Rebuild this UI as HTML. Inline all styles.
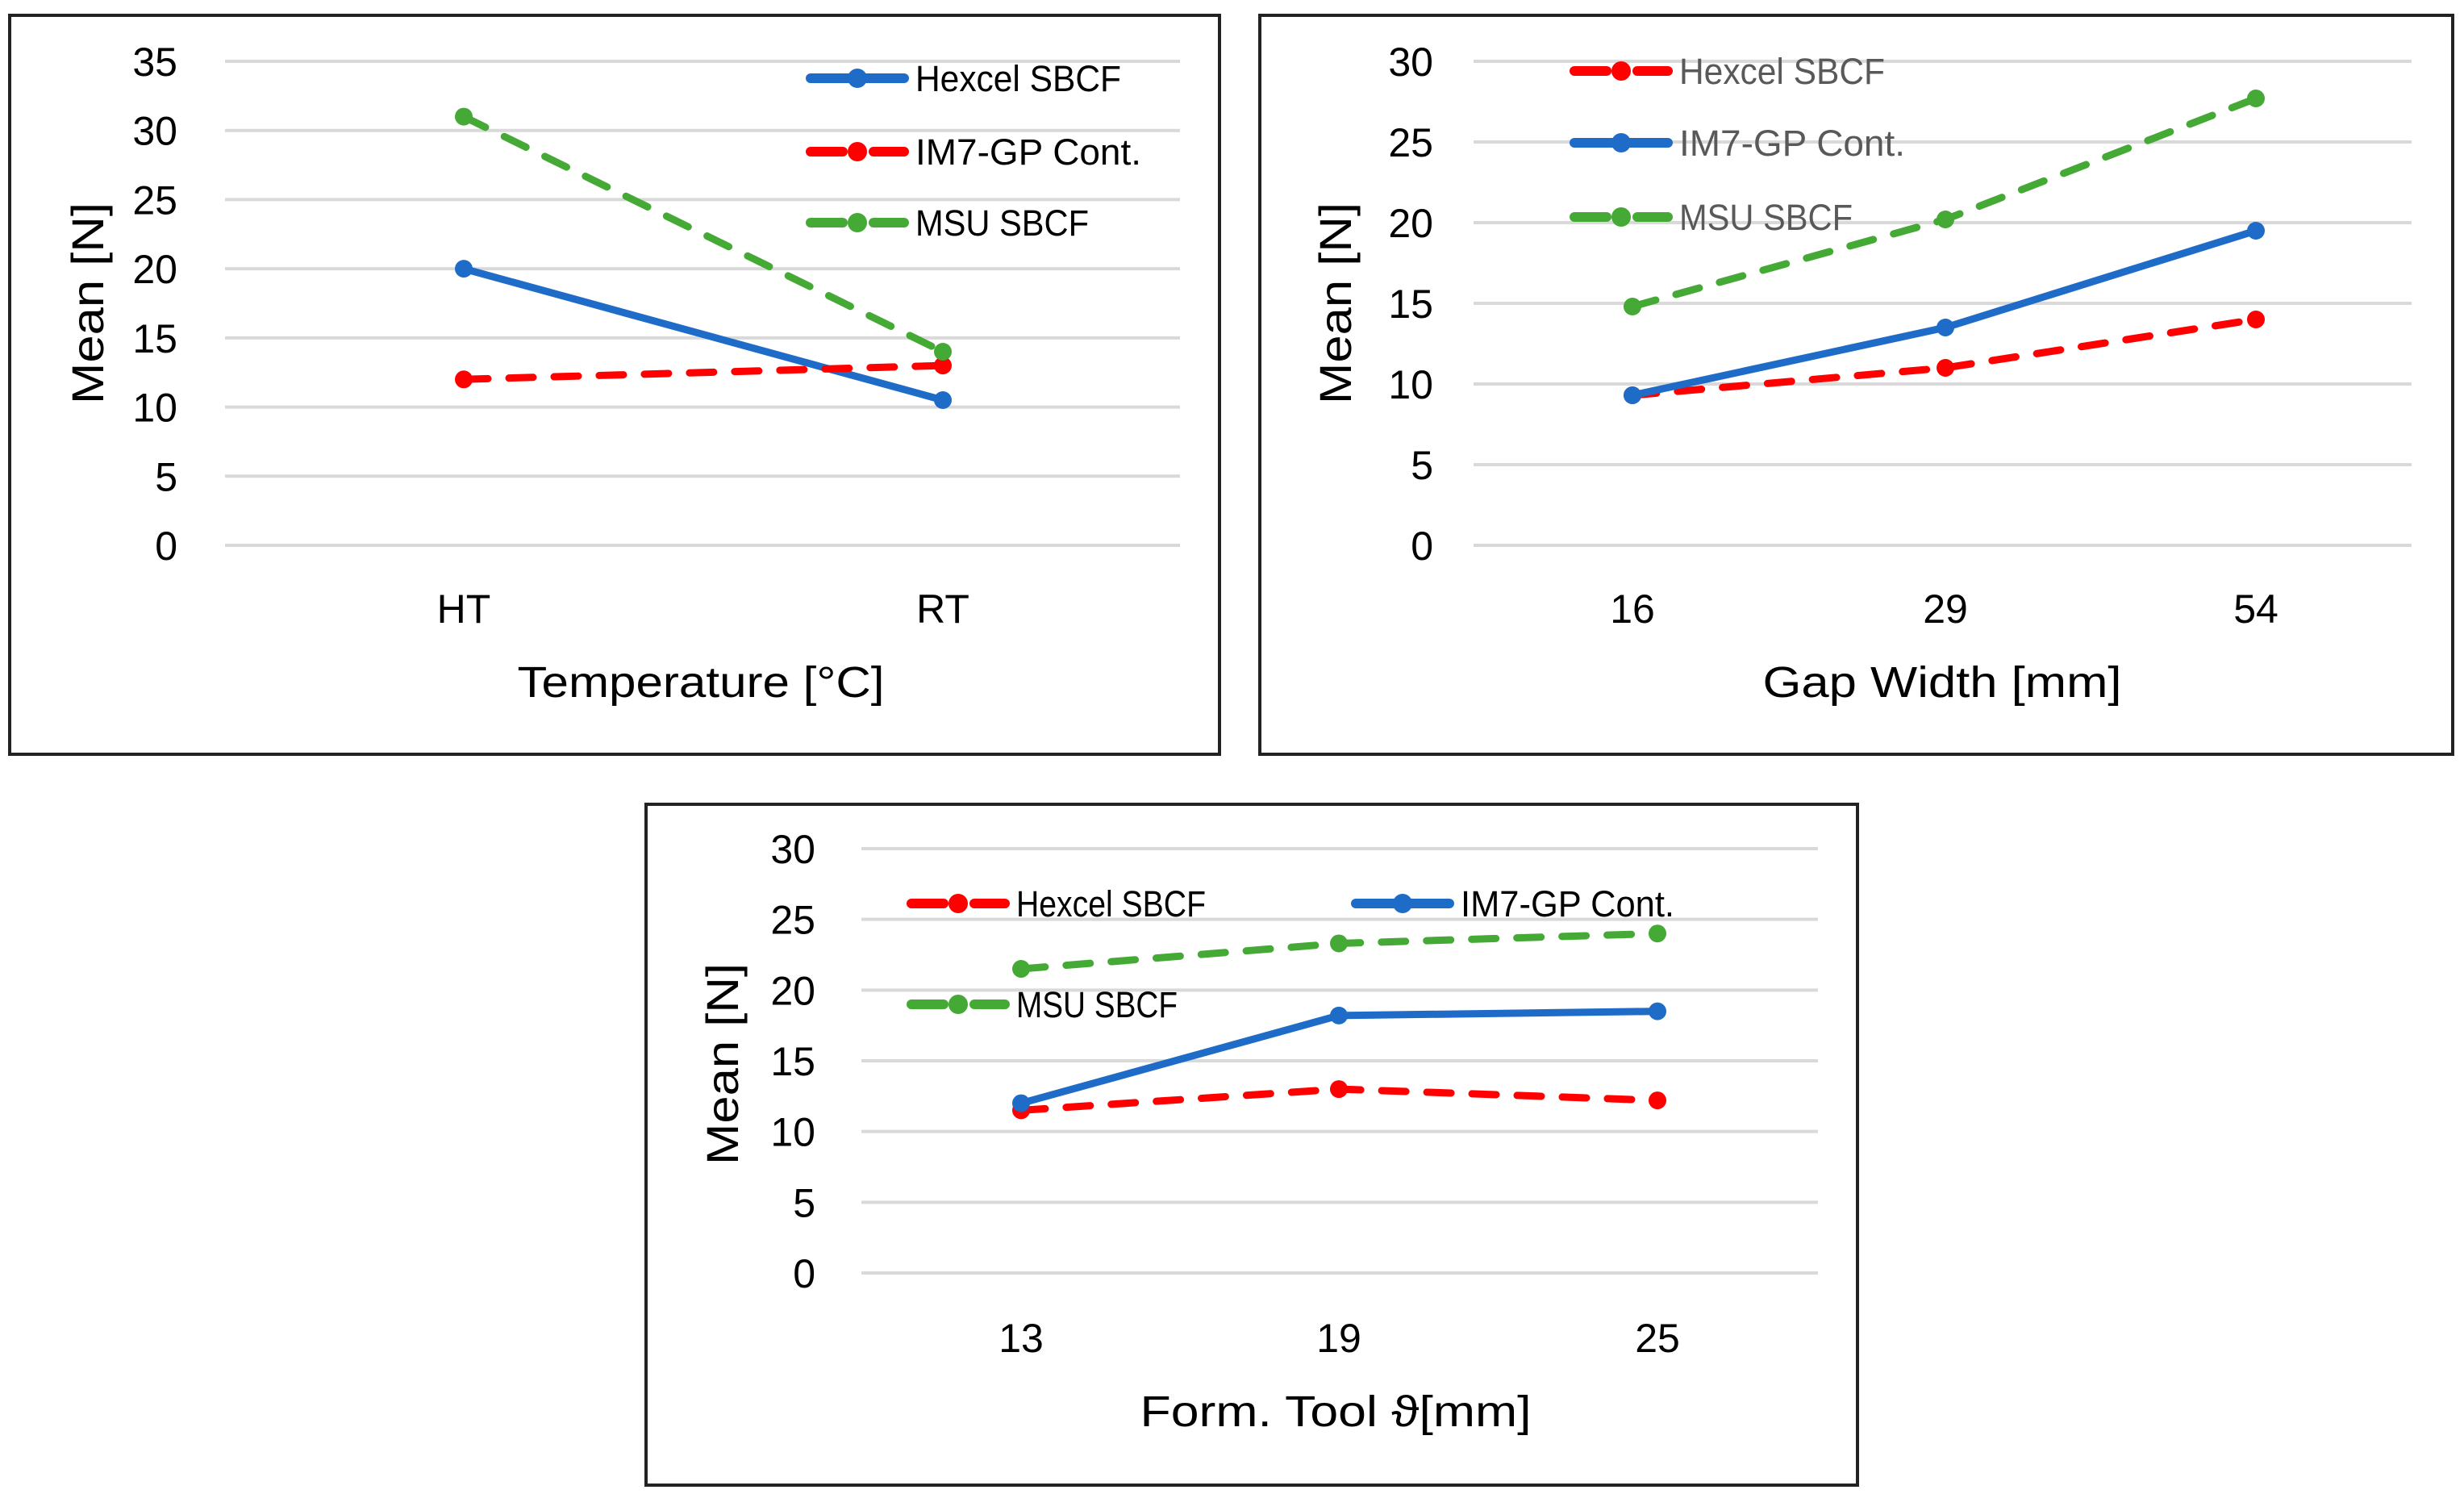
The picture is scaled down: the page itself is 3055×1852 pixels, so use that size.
<!DOCTYPE html>
<html><head><meta charset="utf-8"><style>
html,body{margin:0;padding:0;background:#fff;}
svg{display:block;}
text{font-family:"Liberation Sans",sans-serif;fill:#000;}
</style></head><body>
<svg id="root" width="3055" height="1852" viewBox="0 0 3055 1852" xmlns="http://www.w3.org/2000/svg"></svg>
<script>
// ---------- data ----------
const c1Categories = ["HT", "RT"];
const c1Hexcel = [20, 10.5];
const c1IM7 = [12, 13];
const c1MSU = [31, 14];
const c1Ticks = [0, 5, 10, 15, 20, 25, 30, 35];

const c2Categories = ["16", "29", "54"];
const c2Hexcel = [9.3, 11, 14];
const c2IM7 = [9.3, 13.5, 19.5];
const c2MSU = [14.8, 20.2, 27.7];
const c2Ticks = [0, 5, 10, 15, 20, 25, 30];

const c3Categories = ["13", "19", "25"];
const c3Hexcel = [11.5, 13, 12.2];
const c3IM7 = [12, 18.2, 18.5];
const c3MSU = [21.5, 23.3, 24];
const c3Ticks = [0, 5, 10, 15, 20, 25, 30];

const BLUE = "#1f6cc8", RED = "#ff0000", GREEN = "#45a935";
const NS = "http://www.w3.org/2000/svg";
const root = document.getElementById("root");

function mk(tag, attrs, parent) {
  const e = document.createElementNS(NS, tag);
  for (const k in attrs) e.setAttribute(k, attrs[k]);
  (parent || root).appendChild(e);
  return e;
}

function drawChart(cfg) {
  const g = mk("g", {});
  
  
  const box = mk("rect", {x: cfg.box[0], y: cfg.box[1], width: cfg.box[2], height: cfg.box[3], fill: "#fff", stroke: "#222", "stroke-width": 4}, g);
  
  
  const yMax = cfg.ticks[cfg.ticks.length - 1];
  const ys = v => cfg.y0 - (v / yMax) * (cfg.y0 - cfg.yTop);
  const xs = i => cfg.cx[i];
  cfg.ticks.forEach(t => {
    const gl = mk("line", {x1: cfg.gx[0], x2: cfg.gx[1], y1: ys(t), y2: ys(t), stroke: "#d9d9d9", "stroke-width": 4}, g);
    
    
    const tl = mk("text", {x: cfg.tickRight, y: ys(t) + 18, "text-anchor": "end", "font-size": 50}, g);
    tl.textContent = t;
    
    
  });
  cfg.categories.forEach((c, i) => {
    const xl = mk("text", {x: xs(i), y: cfg.xLabelY, "text-anchor": "middle", "font-size": 50}, g);
    xl.textContent = c;
    
    
  });
  const xt = mk("text", {x: cfg.xTitle[0], y: cfg.xTitle[1], "text-anchor": "middle", "font-size": 54, textLength: cfg.xTitle[2], lengthAdjust: "spacingAndGlyphs"}, g);
  xt.textContent = cfg.xTitleText;
  
  
  const yt = mk("text", {x: 0, y: 0, "text-anchor": "middle", "font-size": 56, textLength: 250, lengthAdjust: "spacingAndGlyphs", transform: `translate(${cfg.yTitle[0]},${cfg.yTitle[1]}) rotate(-90)`}, g);
  yt.textContent = "Mean [N]";
  
  

  cfg.series.forEach(s => {
    const pts = s.values.map((v, i) => xs(i) + "," + ys(v)).join(" ");
    const pl = mk("polyline", {points: pts, fill: "none", stroke: s.color, "stroke-width": 9, "stroke-linecap": "round", "stroke-dasharray": s.dash ? "30 26" : "none"}, g);
    
    
    s.values.forEach((v, i) => {
      const m = mk("circle", {cx: xs(i), cy: ys(v), r: 11, fill: s.color}, g);
      
      
    });
    const lg = mk("g", {}, g);
    
    
    const [lx, ly] = s.legend;
    if (s.dash) {
      mk("line", {x1: lx, x2: lx + 40, y1: ly, y2: ly, stroke: s.color, "stroke-width": 12, "stroke-linecap": "round"}, lg);
      mk("line", {x1: lx + 78, x2: lx + 116, y1: ly, y2: ly, stroke: s.color, "stroke-width": 12, "stroke-linecap": "round"}, lg);
    } else {
      mk("line", {x1: lx, x2: lx + 116, y1: ly, y2: ly, stroke: s.color, "stroke-width": 12, "stroke-linecap": "round"}, lg);
    }
    mk("circle", {cx: lx + 58, cy: ly, r: 12, fill: s.color}, lg);
    const lt = mk("text", {x: lx + 130, y: ly + 16, "font-size": 45, textLength: s.lw, lengthAdjust: "spacingAndGlyphs", fill: cfg.legendColor}, lg);
    lt.style.fill = cfg.legendColor;
    lt.textContent = s.label;
  });
}

drawChart({
  name: "chart-temperature", box: [12, 19, 1500, 916],
  ticks: c1Ticks, y0: 676, yTop: 76, gx: [279, 1463], cx: [575, 1169],
  categories: c1Categories, tickRight: 220, xLabelY: 772,
  xTitle: [869, 864, 455], xTitleText: "Temperature [°C]", yTitle: [128, 376],
  legendColor: "#000",
  series: [
    {key: "hexcel", label: "Hexcel SBCF", values: c1Hexcel, color: BLUE, dash: false, legend: [1005, 97], lw: 255},
    {key: "im7", label: "IM7-GP Cont.", values: c1IM7, color: RED, dash: true, legend: [1005, 188], lw: 280},
    {key: "msu", label: "MSU SBCF", values: c1MSU, color: GREEN, dash: true, legend: [1005, 276], lw: 215}
  ]
});

drawChart({
  name: "chart-gap-width", box: [1562, 19, 1479, 916],
  ticks: c2Ticks, y0: 676, yTop: 76, gx: [1827, 2990], cx: [2024, 2412, 2797],
  categories: c2Categories, tickRight: 1777, xLabelY: 772,
  xTitle: [2408, 864, 445], xTitleText: "Gap Width [mm]", yTitle: [1675, 376],
  legendColor: "#595959",
  series: [
    {key: "hexcel", label: "Hexcel SBCF", values: c2Hexcel, color: RED, dash: true, legend: [1952, 88], lw: 255},
    {key: "im7", label: "IM7-GP Cont.", values: c2IM7, color: BLUE, dash: false, legend: [1952, 177], lw: 280},
    {key: "msu", label: "MSU SBCF", values: c2MSU, color: GREEN, dash: true, legend: [1952, 269], lw: 215}
  ]
});

drawChart({
  name: "chart-form-tool", box: [801, 997, 1502, 844],
  ticks: c3Ticks, y0: 1578, yTop: 1052, gx: [1068, 2254], cx: [1266, 1660, 2055],
  categories: c3Categories, tickRight: 1011, xLabelY: 1676,
  xTitle: [1656, 1768, 485], xTitleText: "Form. Tool ϑ[mm]", yTitle: [915, 1319],
  legendColor: "#000",
  series: [
    {key: "hexcel", label: "Hexcel SBCF", values: c3Hexcel, color: RED, dash: true, legend: [1130, 1120], lw: 235},
    {key: "im7", label: "IM7-GP Cont.", values: c3IM7, color: BLUE, dash: false, legend: [1681, 1120], lw: 265},
    {key: "msu", label: "MSU SBCF", values: c3MSU, color: GREEN, dash: true, legend: [1130, 1245], lw: 200}
  ]
});
</script>
</body></html>
